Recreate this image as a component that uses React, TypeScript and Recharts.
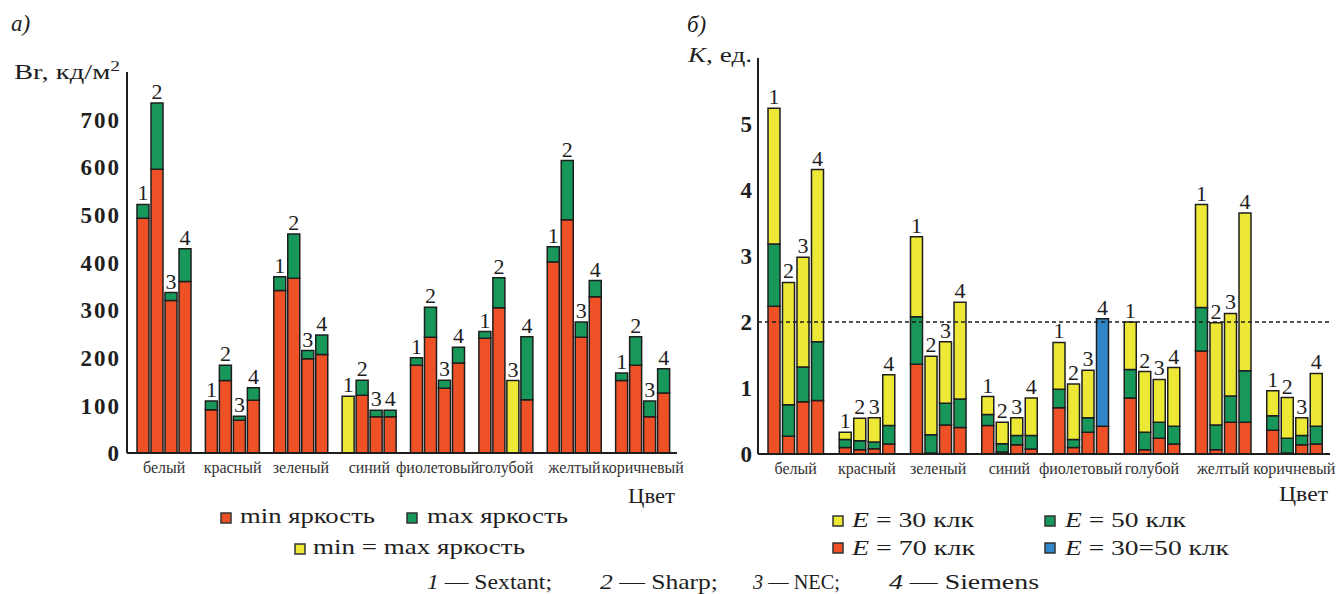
import React from 'react';
import { BarChart, Bar, XAxis, YAxis, LabelList, ReferenceLine } from 'recharts';

const categories = ['белый', 'красный', 'зеленый', 'синий', 'фиолетовый', 'голубой', 'желтый', 'коричневый'];
const deviceLabels = ['1', '2', '3', '4'];

// Panel a: brightness, cd/m2 (min and max per device)
const brMinSextant = [493, 91, 341, 119, 184, 241, 401, 152];
const brMaxSextant = [522, 109, 370, 119, 200, 255, 433, 168];
const brMinSharp = [596, 152, 367, 121, 243, 305, 490, 184];
const brMaxSharp = [735, 184, 460, 153, 306, 368, 614, 244];
const brMinNEC = [320, 69, 198, 76, 136, 152, 243, 76];
const brMaxNEC = [337, 77, 215, 90, 153, 152, 275, 109];
const brMinSiemens = [360, 111, 207, 76, 189, 112, 328, 126];
const brMaxSiemens = [429, 137, 248, 90, 222, 244, 362, 177];

// Panel b: contrast K at E = 30, 50, 70 klx
const k30Sextant = [5.24, 0.33, 3.29, 0.87, 1.69, 2.0, 3.78, 0.96];
const k50Sextant = [3.18, 0.22, 2.08, 0.6, 0.98, 1.28, 2.22, 0.58];
const k70Sextant = [2.24, 0.1, 1.36, 0.43, 0.7, 0.85, 1.56, 0.36];
const k30Sharp = [2.6, 0.54, 1.48, 0.48, 1.06, 1.25, 1.99, 0.855];
const k50Sharp = [0.745, 0.2, 0.29, 0.155, 0.22, 0.33, 0.44, 0.24];
const k70Sharp = [0.27, 0.065, 0.015, 0.03, 0.1, 0.065, 0.065, 0.015];
const k30NEC = [2.98, 0.55, 1.7, 0.55, 1.27, 1.13, 2.13, 0.55];
const k50NEC = [1.32, 0.18, 0.77, 0.28, 0.55, 0.48, 0.88, 0.28];
const k70NEC = [0.79, 0.08, 0.44, 0.14, 0.33, 0.24, 0.48, 0.14];
const k30Siemens = [4.31, 1.2, 2.3, 0.85, 2.05, 1.31, 3.65, 1.22];
const k50Siemens = [1.7, 0.43, 0.835, 0.28, 2.05, 0.42, 1.26, 0.42];
const k70Siemens = [0.81, 0.15, 0.4, 0.075, 0.42, 0.15, 0.48, 0.15];

const brTicks = [0, 100, 200, 300, 400, 500, 600, 700];
const kTicks = [0, 1, 2, 3, 4, 5];
const kThreshold = 2;

const RED = '#EE5125';
const GREEN = '#17985A';
const YELLOW = '#EDE836';
const BLUE = '#2F86C8';
const INK = '#1e1e1e';
const FONT = '"Liberation Serif", "Times New Roman", serif';

const leftMin = [brMinSextant, brMinSharp, brMinNEC, brMinSiemens];
const leftMax = [brMaxSextant, brMaxSharp, brMaxNEC, brMaxSiemens];
const k30 = [k30Sextant, k30Sharp, k30NEC, k30Siemens];
const k50 = [k50Sextant, k50Sharp, k50NEC, k50Siemens];
const k70 = [k70Sextant, k70Sharp, k70NEC, k70Siemens];

const leftData = categories.map((cat, i) => {
  const row: any = { cat };
  for (let d = 0; d < 4; d++) {
    const mn = leftMin[d][i];
    const mx = leftMax[d][i];
    const eq = mn === mx;
    row[`r${d}`] = eq ? 0 : mn;
    row[`g${d}`] = eq ? 0 : mx - mn;
    row[`y${d}`] = eq ? mn : 0;
    row[`lg${d}`] = eq ? '' : deviceLabels[d];
    row[`ly${d}`] = eq ? deviceLabels[d] : '';
  }
  return row;
});

const rightData = categories.map((cat, i) => {
  const row: any = { cat };
  for (let d = 0; d < 4; d++) {
    const a = k30[d][i];
    const b = k50[d][i];
    const c = k70[d][i];
    const same = a === b;
    row[`r${d}`] = c;
    row[`g${d}`] = same ? 0 : b - c;
    row[`y${d}`] = same ? 0 : a - b;
    row[`b${d}`] = same ? a - c : 0;
    row[`ly${d}`] = same ? '' : deviceLabels[d];
    row[`lb${d}`] = same ? deviceLabels[d] : '';
  }
  return row;
});

const labelProps = {
  position: 'top' as const,
  offset: 4,
  fontSize: 22,
  fill: INK,
  fontFamily: FONT,
  style: { fontFamily: FONT },
};

const barCommon = {
  stroke: INK,
  strokeWidth: 1.5,
  isAnimationActive: false,
  barSize: 12,
};

function leftBars() {
  const out: any[] = [];
  for (let d = 0; d < 4; d++) {
    out.push(<Bar key={`r${d}`} dataKey={`r${d}`} stackId={`s${d}`} fill={RED} {...barCommon} />);
    out.push(
      <Bar key={`g${d}`} dataKey={`g${d}`} stackId={`s${d}`} fill={GREEN} {...barCommon}>
        <LabelList dataKey={`lg${d}`} {...labelProps} />
      </Bar>
    );
    out.push(
      <Bar key={`y${d}`} dataKey={`y${d}`} stackId={`s${d}`} fill={YELLOW} {...barCommon}>
        <LabelList dataKey={`ly${d}`} {...labelProps} />
      </Bar>
    );
  }
  return out;
}

function rightBars() {
  const out: any[] = [];
  for (let d = 0; d < 4; d++) {
    out.push(<Bar key={`r${d}`} dataKey={`r${d}`} stackId={`s${d}`} fill={RED} {...barCommon} />);
    out.push(<Bar key={`g${d}`} dataKey={`g${d}`} stackId={`s${d}`} fill={GREEN} {...barCommon} />);
    out.push(
      <Bar key={`y${d}`} dataKey={`y${d}`} stackId={`s${d}`} fill={YELLOW} {...barCommon}>
        <LabelList dataKey={`ly${d}`} {...labelProps} />
      </Bar>
    );
    out.push(
      <Bar key={`b${d}`} dataKey={`b${d}`} stackId={`s${d}`} fill={BLUE} {...barCommon}>
        <LabelList dataKey={`lb${d}`} {...labelProps} />
      </Bar>
    );
  }
  return out;
}

const xTick = { fontSize: 16, fill: '#333', fontFamily: FONT };
const yTick = {
  fontSize: 23,
  fill: INK,
  fontFamily: FONT,
  fontWeight: 700,
  letterSpacing: 2,
  style: { letterSpacing: '2px' },
};
const axisLine = { stroke: INK, strokeWidth: 2 };

function Swatch({ x, y, color }: { x: number; y: number; color: string }) {
  return <rect x={x} y={y} width={10} height={10} fill={color} stroke="#333" strokeWidth={1.5} />;
}

function T({ x, y, w, size = 22, children }: { x: number; y: number; w: number; size?: number; children: any }) {
  return (
    <text x={x} y={y} fontSize={size} textLength={w} lengthAdjust="spacingAndGlyphs">
      {children}
    </text>
  );
}

export default function App() {
  return (
    <div
      style={{
        position: 'absolute',
        left: 0,
        top: 0,
        width: 1343,
        height: 594,
        background: '#fff',
        overflow: 'hidden',
        fontFamily: FONT,
      }}
    >
      <div style={{ position: 'absolute', left: 0, top: 0 }}>
        <BarChart
          width={700}
          height={594}
          data={leftData}
          margin={{ top: 72, right: 23, bottom: 111, left: 67 }}
          barGap={2}
        >
          <XAxis
            dataKey="cat"
            interval={0}
            tick={xTick}
            tickLine={false}
            tickSize={0}
            tickMargin={9}
            axisLine={axisLine}
            padding={{ left: 3, right: 0 }}
            height={30}
          />
          <YAxis
            type="number"
            domain={[0, 800]}
            ticks={brTicks}
            tick={yTick}
            tickLine={false}
            tickSize={0}
            tickMargin={6}
            axisLine={axisLine}
            width={60}
          />
          {leftBars()}
        </BarChart>
      </div>
      <div style={{ position: 'absolute', left: 680, top: 0 }}>
        <BarChart
          width={663}
          height={594}
          data={rightData}
          margin={{ top: 58, right: 13, bottom: 110, left: 38 }}
          barGap={2.5}
        >
          <XAxis
            dataKey="cat"
            interval={0}
            tick={xTick}
            tickLine={false}
            tickSize={0}
            tickMargin={9}
            axisLine={axisLine}
            padding={{ left: 2, right: 0 }}
            height={30}
          />
          <YAxis
            type="number"
            domain={[0, 6]}
            ticks={kTicks}
            tick={yTick}
            tickLine={false}
            tickSize={0}
            tickMargin={4}
            axisLine={axisLine}
            width={40}
          />
          {rightBars()}
          <ReferenceLine y={kThreshold} stroke={INK} strokeWidth={1.5} strokeDasharray="4 3" />
        </BarChart>
      </div>
      <svg
        width={1343}
        height={594}
        style={{ position: 'absolute', left: 0, top: 0, pointerEvents: 'none' }}
        fontFamily={FONT}
        fill={INK}
      >
        <text x={11} y={31} fontSize={23} fontStyle="italic">а)</text>
        <text x={687} y={32} fontSize={23} fontStyle="italic">б)</text>
        <T x={14} y={79} w={106}>
          Br, кд/м<tspan fontSize={15} dy={-8}>2</tspan>
        </T>
        <T x={688} y={62} w={64}>
          <tspan fontStyle="italic">K</tspan>, ед.
        </T>
        <T x={628} y={503} w={47}>Цвет</T>
        <T x={1279} y={501} w={49}>Цвет</T>

        <Swatch x={221} y={513} color={RED} />
        <T x={240} y={523} w={135}>min яркость</T>
        <Swatch x={407} y={513} color={GREEN} />
        <T x={427} y={523} w={141}>max яркость</T>
        <Swatch x={295} y={544} color={YELLOW} />
        <T x={313} y={554} w={212}>min = max яркость</T>

        <Swatch x={833} y={516} color={YELLOW} />
        <T x={852} y={527} w={122}>
          <tspan fontStyle="italic">E</tspan> = 30 клк
        </T>
        <Swatch x={1045} y={516} color={GREEN} />
        <T x={1065} y={527} w={121}>
          <tspan fontStyle="italic">E</tspan> = 50 клк
        </T>
        <Swatch x={833} y={543} color={RED} />
        <T x={852} y={555} w={123}>
          <tspan fontStyle="italic">E</tspan> = 70 клк
        </T>
        <Swatch x={1045} y={543} color={BLUE} />
        <T x={1065} y={555} w={164}>
          <tspan fontStyle="italic">E</tspan> = 30=50 клк
        </T>

        <T x={427} y={589} w={125}>
          <tspan fontStyle="italic">1</tspan> — Sextant;
        </T>
        <T x={600} y={589} w={118}>
          <tspan fontStyle="italic">2</tspan> — Sharp;
        </T>
        <T x={753} y={589} w={87}>
          <tspan fontStyle="italic">3</tspan> — NEC;
        </T>
        <T x={889} y={589} w={150}>
          <tspan fontStyle="italic">4</tspan> — Siemens
        </T>
      </svg>
    </div>
  );
}
